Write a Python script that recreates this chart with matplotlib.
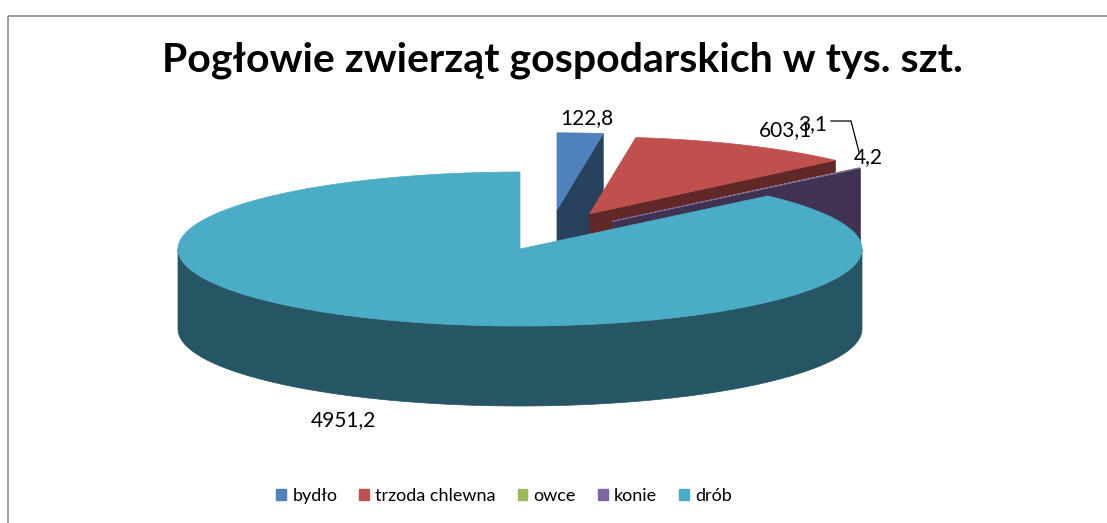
import numpy as np
import matplotlib
matplotlib.use("Agg")
import matplotlib.pyplot as plt
from matplotlib.patches import Polygon, Rectangle, Patch

# ---- data ----
categories = ["bydło", "trzoda chlewna", "owce", "konie", "drób"]
values = [122.8, 603.1, 3.1, 4.2, 4951.2]
value_labels = ["122,8", "603,1", "3,1", "4,2", "4951,2"]
title = "Pogłowie zwierząt gospodarskich w tys. szt."

# ---- style ----
colors = ["#4F81BD", "#C0504D", "#9BBB59", "#8064A2", "#4BACC6"]
explode = [0.52, 0.5, 0.45, 0.45, 0.0]        # fraction of radius
explode_dir = [12, 24, 37, 37, 0]              # direction (deg, clockwise from 12 o'clock)
W, H = 1107, 523
CX, CY = 520, 249      # pie centre (pixels)
RX, RY = 342, 77       # ellipse radii
DEPTH = 80
FONT = "Lato"

def shade(c, f=0.5):
    r, g, b = matplotlib.colors.to_rgb(c)
    return (r * f, g * f, b * f)

fig = plt.figure(figsize=(W / 100, H / 100), dpi=100)
ax = fig.add_axes([0, 0, 1, 1])
ax.set_xlim(0, W)
ax.set_ylim(H, 0)
ax.axis("off")

# chart border
ax.add_patch(Rectangle((7.5, 15.5), W + 20, H + 20, fill=False,
                       edgecolor="#8c8c8c", lw=1.2))

total = sum(values)
angles = np.cumsum([0] + [v / total * 360 for v in values])

def pt(th, cx, cy, z=0):
    r = np.radians(th)
    return cx + RX * np.sin(r), cy - RY * np.cos(r) + z

slices = []
for i, v in enumerate(values):
    t1, t2 = angles[i], angles[i + 1]
    mid = np.radians((t1 + t2) / 2)
    d = np.radians(explode_dir[i])
    dx = explode[i] * RX * np.sin(d)
    dy = -explode[i] * RY * np.cos(d)
    slices.append((i, t1, t2, CX + dx, CY + dy, np.cos(mid)))

# back-to-front
order = sorted(slices, key=lambda s: -s[5])
for i, t1, t2, cx, cy, _ in order:
    col = colors[i]
    side = shade(col)
    if 0 < t2 < 180:
        xr, yr = pt(t2, cx, cy)
        poly = [(cx, cy), (xr, yr), (xr, yr + DEPTH), (cx, cy + DEPTH)]
        ax.add_patch(Polygon(poly, closed=True, facecolor=side, edgecolor=side, lw=0.5))
    if 180 < t1 < 360:
        xr, yr = pt(t1, cx, cy)
        poly = [(cx, cy), (xr, yr), (xr, yr + DEPTH), (cx, cy + DEPTH)]
        ax.add_patch(Polygon(poly, closed=True, facecolor=side, edgecolor=side, lw=0.5))
    a, b = max(t1, 90), min(t2, 270)
    if b > a:
        th = np.linspace(a, b, 200)
        top = [pt(t, cx, cy) for t in th]
        bot = [pt(t, cx, cy, DEPTH) for t in th[::-1]]
        ax.add_patch(Polygon(top + bot, closed=True, facecolor=side, edgecolor=side, lw=0.5))
    th = np.linspace(t1, t2, max(3, int((t2 - t1) * 2)))
    poly = [(cx, cy)] + [pt(t, cx, cy) for t in th]
    ax.add_patch(Polygon(poly, closed=True, facecolor=col, edgecolor=col, lw=0.5))

# data labels
lab_pos = [(587, 118), (785, 130), (813, 124), (868, 157), (343, 420)]
for (x, y), s in zip(lab_pos, value_labels):
    ax.text(x, y, s, ha="center", va="center", fontsize=15, family=FONT, color="#000000")
# leader line for owce
ax.plot([831, 851, 859], [121, 121, 152], color="#000000", lw=0.9)

# title
ax.text(562, 60, title, ha="center", va="center", fontsize=29.5,
        fontweight="bold", family=FONT, color="#000000")

# legend
handles = [Patch(facecolor=c, edgecolor=c) for c in colors]
fig.legend(handles, categories, loc="center", bbox_to_anchor=(504 / W, 1 - 496 / H),
           ncol=5, frameon=False, handlelength=0.55, handleheight=0.55,
           handletextpad=0.35, columnspacing=1.2,
           prop={"family": FONT, "size": 13})

fig.savefig("out.png", dpi=100)
